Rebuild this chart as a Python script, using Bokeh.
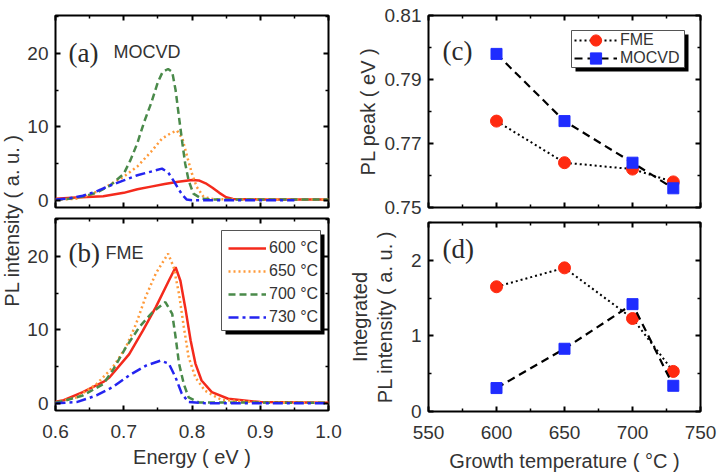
import math

from bokeh.embed import file_html
from bokeh.layouts import column, row
from bokeh.models import (BoxAnnotation, CustomLabelingPolicy, FixedTicker, Label,
                          Legend, LegendItem, LinearAxis, NumeralTickFormatter, Range1d)
from bokeh.plotting import figure
from bokeh.resources import INLINE

# ---------------- PL spectra of MOCVD-grown layers (panel a) ----------------
mocvd_600_e = [0.60, 0.63, 0.67, 0.70, 0.72, 0.74, 0.76, 0.78, 0.80, 0.81, 0.82, 0.83, 0.84, 0.85, 0.86, 0.90, 1.00]
mocvd_600_i = [0.2, 0.35, 0.55, 1.0, 1.5, 1.85, 2.2, 2.5, 2.75, 2.7, 2.3, 1.7, 1.0, 0.4, 0.15, 0.1, 0.1]

mocvd_650_e = [0.60, 0.63, 0.65, 0.67, 0.70, 0.72, 0.74, 0.756, 0.77, 0.778, 0.786, 0.793, 0.80, 0.807, 0.817, 0.83, 0.85, 1.00]
mocvd_650_i = [0.05, 0.2, 0.7, 1.6, 3.2, 4.6, 6.6, 8.4, 9.2, 9.5, 8.4, 5.9, 3.6, 1.8, 0.45, 0.15, 0.1, 0.1]

mocvd_700_e = [0.60, 0.62, 0.64, 0.66, 0.68, 0.70, 0.71, 0.72, 0.73, 0.74, 0.75, 0.757, 0.765, 0.771, 0.776, 0.781, 0.786, 0.790, 0.795, 0.802, 0.814, 0.83, 1.00]
mocvd_700_i = [0.05, 0.2, 0.5, 1.0, 2.0, 3.6, 5.5, 7.8, 10.7, 13.2, 16.1, 17.5, 17.9, 17.5, 15.0, 11.3, 7.7, 5.0, 2.7, 0.9, 0.2, 0.1, 0.1]

mocvd_730_e = [0.60, 0.62, 0.64, 0.66, 0.68, 0.70, 0.72, 0.74, 0.756, 0.765, 0.771, 0.776, 0.781, 0.786, 0.792, 0.80, 0.95]
mocvd_730_i = [0.1, 0.25, 0.6, 1.2, 2.0, 2.7, 3.4, 3.9, 4.3, 3.8, 2.95, 2.2, 1.4, 0.7, 0.1, 0.0, 0.0]

# ---------------- PL spectra of FME-grown layers (panel b) ----------------
fme_600_e = [0.60, 0.612, 0.64, 0.67, 0.679, 0.708, 0.728, 0.747, 0.766, 0.776, 0.783, 0.79, 0.798, 0.805, 0.814, 0.829, 0.853, 0.90, 1.00]
fme_600_i = [0.2, 0.4, 1.5, 2.9, 3.5, 6.7, 9.9, 13.1, 16.7, 18.55, 16.7, 13.1, 8.55, 5.4, 3.1, 1.5, 0.6, 0.15, 0.05]

fme_650_e = [0.60, 0.631, 0.66, 0.684, 0.703, 0.718, 0.732, 0.747, 0.765, 0.773, 0.781, 0.788, 0.795, 0.805, 0.819, 0.843, 0.90, 1.00]
fme_650_i = [0.1, 0.8, 2.6, 4.9, 7.6, 10.8, 14.5, 17.7, 20.4, 18.6, 14.9, 10.4, 6.3, 3.5, 1.7, 0.45, 0.1, 0.05]

fme_700_e = [0.60, 0.612, 0.64, 0.67, 0.684, 0.703, 0.723, 0.742, 0.761, 0.771, 0.776, 0.781, 0.788, 0.795, 0.81, 1.00]
fme_700_i = [0.1, 0.3, 1.05, 2.6, 4.5, 7.6, 10.4, 12.4, 13.8, 12.2, 9.0, 5.4, 2.6, 0.8, 0.1, 0.05]

fme_730_e = [0.60, 0.631, 0.66, 0.684, 0.708, 0.732, 0.754, 0.766, 0.776, 0.785, 0.795, 0.82, 1.00]
fme_730_i = [0.0, 0.15, 1.05, 2.2, 3.8, 5.1, 5.8, 5.4, 3.5, 1.3, 0.15, 0.0, 0.0]

temp_names = ["600 °C", "650 °C", "700 °C", "730 °C"]

# ---------------- growth-temperature series (panels c, d) ----------------
growth_temp = [600, 650, 700, 730]
peak_fme = [0.777, 0.764, 0.762, 0.758]
peak_mocvd = [0.798, 0.777, 0.764, 0.756]
integ_fme = [1.65, 1.90, 1.23, 0.53]
integ_mocvd = [0.31, 0.83, 1.42, 0.34]

# ---------------- ticks ----------------
energy_ticks = [0.6, 0.7, 0.8, 0.9, 1.0]
energy_minor = [0.65, 0.75, 0.85, 0.95]
pl_ticks = [0, 10, 20]
pl_minor = [5, 15, 25]
temp_ticks = [550, 600, 650, 700, 750]
temp_minor = [575, 625, 675, 725]
peak_ticks = [0.75, 0.77, 0.79, 0.81]
peak_minor = [0.76, 0.78, 0.80]
integ_ticks = [0, 1, 2]
integ_minor = [0.5, 1.5, 2.5]

SANS = "Liberation Sans"
SERIF = "Liberation Serif"
TEXT = "#333333"

RED = "#f42a1c"
ORANGE = "#ff9a3a"
GREEN = "#4a8a4a"
BLUE = "#2424f0"
STYLES = [
    dict(line_color=RED, line_width=2.5),
    dict(line_color=ORANGE, line_width=2.5, line_dash="2 3"),
    dict(line_color=GREEN, line_width=2.5, line_dash="7 4"),
    dict(line_color=BLUE, line_width=2.5, line_dash="10 4 3 4"),
]

# mirror axes keep their ticks but show no numbers
HIDE_LABELS = CustomLabelingPolicy(code="""
for (const i of indices) {
    indices.unset(i)
}
return indices
""")


def make_panel(width, height, left, right, top, bottom, x_range, y_range):
    p = figure(width=width, height=height, x_range=x_range, y_range=y_range,
               min_border_left=left, min_border_right=right,
               min_border_top=top, min_border_bottom=bottom,
               toolbar_location=None, output_backend="svg")
    p.grid.visible = False
    p.outline_line_color = "black"
    p.outline_line_width = 2
    p.background_fill_color = "white"
    p.border_fill_color = "white"
    return p


def style_axis(ax, ticks, minor, labels, fmt=None):
    ax.ticker = FixedTicker(ticks=ticks, minor_ticks=minor)
    if fmt is not None:
        ax.formatter = NumeralTickFormatter(format=fmt)
    ax.axis_line_color = None
    ax.major_tick_in = 5
    ax.major_tick_out = 0
    ax.minor_tick_in = 3
    ax.minor_tick_out = 0
    ax.major_tick_line_color = "black"
    ax.minor_tick_line_color = "black"
    ax.major_tick_line_width = 2
    ax.minor_tick_line_width = 1.5
    ax.axis_label_text_font = SANS
    ax.axis_label_text_font_size = "20px"
    ax.axis_label_text_font_style = "normal"
    ax.axis_label_text_color = TEXT
    if labels:
        ax.major_label_text_font = SANS
        ax.major_label_text_font_size = "19px"
        ax.major_label_text_color = TEXT
        ax.major_label_standoff = 7
    else:
        ax.major_label_text_font_size = "1px"
        ax.major_label_standoff = 0
        ax.major_label_policy = HIDE_LABELS


def box_axes(p, xt, xm, yt, ym, x_labels, xfmt=None, yfmt=None):
    """Style the bottom/left axes and mirror their ticks on top/right."""
    bottom = p.below[0]
    left = p.left[0]
    style_axis(bottom, xt, xm, x_labels, xfmt)
    style_axis(left, yt, ym, True, yfmt)
    if x_labels:
        bottom.major_label_standoff = 14
    top = LinearAxis()
    right = LinearAxis()
    style_axis(top, xt, xm, False)
    style_axis(right, yt, ym, False)
    p.add_layout(top, "above")
    p.add_layout(right, "right")
    return bottom, left


def text(p, x, y, s, size, font=SANS, angle=0.0, align="left", baseline="alphabetic", color=TEXT):
    p.add_layout(Label(x=x, y=y, x_units="screen", y_units="screen", text=s,
                       text_font=font, text_font_size=size, text_color=color,
                       angle=angle, text_align=align, text_baseline=baseline))


def legend_box(p, left, right, top, bottom, shadow=4):
    p.add_layout(BoxAnnotation(left=left + shadow, right=right + shadow,
                               top=top - shadow, bottom=bottom - shadow,
                               left_units="screen", right_units="screen",
                               top_units="screen", bottom_units="screen",
                               fill_color="black", fill_alpha=1, line_color=None))
    p.add_layout(BoxAnnotation(left=left, right=right, top=top, bottom=bottom,
                               left_units="screen", right_units="screen",
                               top_units="screen", bottom_units="screen",
                               fill_color="white", fill_alpha=1,
                               line_color="#555555", line_width=1, line_alpha=1))


def legend(items, loc, glyph_w, glyph_h, spacing=0):
    return Legend(items=items, location=loc, glyph_width=glyph_w, glyph_height=glyph_h,
                  label_height=glyph_h, spacing=spacing, padding=0, margin=0,
                  label_standoff=3, label_text_font=SANS, label_text_font_size="16px",
                  label_text_color=TEXT, background_fill_alpha=0, border_line_color=None)


# ---------------- (a) MOCVD spectra ----------------
pa = make_panel(321, 212, 28, 17, 15, 5, Range1d(0.6, 1.0), Range1d(-1, 25.2))
box_axes(pa, energy_ticks, energy_minor, pl_ticks, pl_minor, False, "0.0")
for e, i, st in zip([mocvd_600_e, mocvd_650_e, mocvd_700_e, mocvd_730_e],
                    [mocvd_600_i, mocvd_650_i, mocvd_700_i, mocvd_730_i], STYLES):
    pa.line(e, i, **st)
text(pa, 13, 155, "(a)", "27px", font=SERIF, color="#2a2a2a")
text(pa, 58, 156, "MOCVD", "18px")

# ---------------- (b) FME spectra ----------------
pb = make_panel(321, 264, 28, 17, 6, 66, Range1d(0.6, 1.0), Range1d(-1, 25.2))
b_x, _ = box_axes(pb, energy_ticks, energy_minor, pl_ticks, pl_minor, True, "0.0")
b_x.axis_label = "Energy ( eV )"
b_x.axis_label_standoff = 5
fme_lines = []
for e, i, st in zip([fme_600_e, fme_650_e, fme_700_e, fme_730_e],
                    [fme_600_i, fme_650_i, fme_700_i, fme_730_i], STYLES):
    fme_lines.append(pb.line(e, i, **st))
text(pb, 13, 158, "(b)", "27px", font=SERIF, color="#2a2a2a")
text(pb, 50, 158, "FME", "18px")
legend_box(pb, 166, 265, 180, 80)
pb.add_layout(legend([LegendItem(label=n, renderers=[r]) for n, r in zip(temp_names, fme_lines)],
                     (173, 83), 38, 20, spacing=3))

# ---------------- (c) PL peak energy ----------------
pc = make_panel(375, 218, 76, 20, 15, 11, Range1d(550, 750), Range1d(0.75, 0.81))
_, c_y = box_axes(pc, temp_ticks, temp_minor, peak_ticks, peak_minor, False, None, "0.00")
c_y.axis_label = "PL peak ( eV )"
c_y.axis_label_standoff = 3
l_fme = pc.line(growth_temp, peak_fme, line_color="black", line_width=2, line_dash="2 3")
s_fme = pc.scatter(growth_temp, peak_fme, marker="circle", size=12, fill_color="#ff2a10", line_color="#ff2a10")
l_moc = pc.line(growth_temp, peak_mocvd, line_color="black", line_width=2.2, line_dash="8 5")
s_moc = pc.scatter(growth_temp, peak_mocvd, marker="square", size=11, fill_color="#1f2cff", line_color="#1f2cff")
text(pc, 14, 157, "(c)", "27px", font=SERIF, color="#2a2a2a")
legend_box(pc, 143, 256, 177, 140)
pc.add_layout(legend([LegendItem(label="FME", renderers=[l_fme, s_fme])], (146, 153), 43, 28))
pc.add_layout(legend([LegendItem(label="MOCVD", renderers=[l_moc, s_moc])], (146, 135), 43, 28))

# ---------------- (d) integrated PL intensity ----------------
pd_ = make_panel(375, 258, 76, 20, 0, 65, Range1d(550, 750), Range1d(0, 2.5))
d_x, d_y = box_axes(pd_, temp_ticks, temp_minor, integ_ticks, integ_minor, True)
d_y.axis_label = "PL intensity ( a. u. )"
d_y.axis_label_standoff = 12
d_x.axis_label = "Growth temperature ( °C )"
d_x.axis_label_standoff = 8
# first line of the two-line y title sits on an outer, tick-less axis
outer = LinearAxis(ticker=FixedTicker(ticks=[]), axis_label="Integrated",
                   axis_line_color=None, major_tick_in=0, major_tick_out=0,
                   minor_tick_in=0, minor_tick_out=0, major_label_standoff=0,
                   major_label_text_font_size="1px", axis_label_standoff=0,
                   axis_label_text_font=SANS, axis_label_text_font_size="20px",
                   axis_label_text_font_style="normal", axis_label_text_color=TEXT)
pd_.add_layout(outer, "left")
pd_.line(growth_temp, integ_fme, line_color="black", line_width=2, line_dash="2 3")
pd_.scatter(growth_temp, integ_fme, marker="circle", size=12, fill_color="#ff2a10", line_color="#ff2a10")
pd_.line(growth_temp, integ_mocvd, line_color="black", line_width=2.2, line_dash="8 5")
pd_.scatter(growth_temp, integ_mocvd, marker="square", size=11, fill_color="#1f2cff", line_color="#1f2cff")
text(pd_, 14, 163, "(d)", "27px", font=SERIF, color="#2a2a2a")

# ---------------- shared y title for the spectra ----------------
strip = figure(width=24, height=476, x_range=Range1d(0, 1), y_range=Range1d(0, 1),
               x_axis_location=None, y_axis_location=None, min_border=0,
               outline_line_color=None, toolbar_location=None, output_backend="svg")
strip.grid.visible = False
text(strip, 11, 256, "PL intensity ( a. u. )", "20px", angle=math.pi / 2,
     align="center", baseline="middle")

layout = row(strip, column(pa, pb), column(pc, pd_))
open("out.html", "w").write(file_html(layout, INLINE))
